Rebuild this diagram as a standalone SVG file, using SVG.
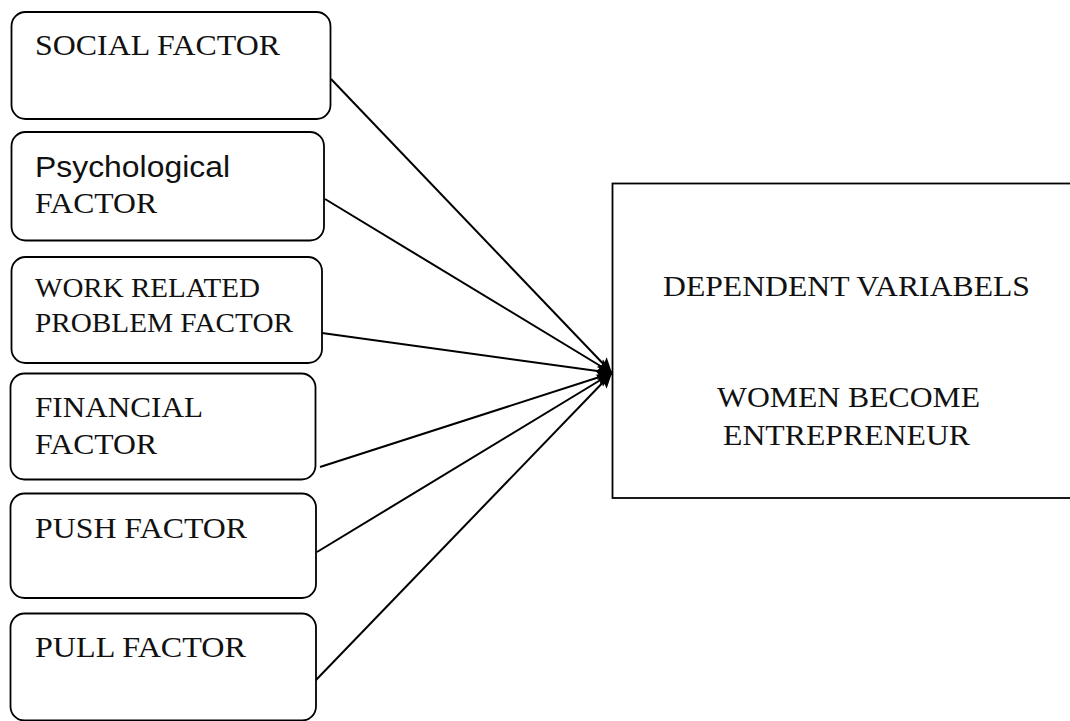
<svg xmlns="http://www.w3.org/2000/svg" width="1070" height="721" viewBox="0 0 1070 721">
  <style>
    .box { fill: none; stroke: #000; stroke-width: 1.8; }
    .t { font-family: "Liberation Serif", "Times New Roman", serif; font-size: 30px; fill: #111; }
    .s { font-family: "Liberation Sans", Arial, sans-serif; font-size: 29px; fill: #111; }
    .c { stroke: #000; stroke-width: 2; fill: none; marker-end: url(#ah); }
  </style>
  <defs>
    <marker id="ah" markerUnits="userSpaceOnUse" markerWidth="16" markerHeight="18" refX="15" refY="9" orient="auto">
      <path d="M0,2 L15,9 L0,16 L3,9 z" fill="#000"/>
    </marker>
  </defs>
  <rect width="1070" height="721" fill="#fff"/>

  <g id="connectors">
    <line class="c" x1="331" y1="79" x2="612" y2="373"/>
    <line class="c" x1="325" y1="199" x2="612" y2="373"/>
    <line class="c" x1="322" y1="333" x2="612" y2="373"/>
    <line class="c" x1="320" y1="467" x2="612" y2="373"/>
    <line class="c" x1="317" y1="552" x2="612" y2="373"/>
    <line class="c" x1="316" y1="680" x2="612" y2="373"/>
  </g>

  <g id="social">
    <rect class="box" x="11.5" y="12" width="319" height="107" rx="14"/>
    <text class="t" x="35" y="55" textLength="245" lengthAdjust="spacingAndGlyphs">SOCIAL FACTOR</text>
  </g>
  <g id="psychological">
    <rect class="box" x="11.5" y="132" width="312.5" height="108.5" rx="14"/>
    <text class="s" x="35" y="177" textLength="195" lengthAdjust="spacingAndGlyphs">Psychological</text>
    <text class="t" x="35" y="213" textLength="122" lengthAdjust="spacingAndGlyphs">FACTOR</text>
  </g>
  <g id="work">
    <rect class="box" x="11.5" y="257" width="310.5" height="106" rx="14"/>
    <text class="t" x="35" y="297" style="font-size:28px" textLength="225" lengthAdjust="spacingAndGlyphs">WORK RELATED</text>
    <text class="t" x="35" y="332" style="font-size:28px" textLength="258" lengthAdjust="spacingAndGlyphs">PROBLEM FACTOR</text>
  </g>
  <g id="financial">
    <rect class="box" x="10.5" y="373.5" width="305" height="106" rx="14"/>
    <text class="t" x="35" y="417" textLength="168" lengthAdjust="spacingAndGlyphs">FINANCIAL</text>
    <text class="t" x="35" y="454" textLength="122" lengthAdjust="spacingAndGlyphs">FACTOR</text>
  </g>
  <g id="push">
    <rect class="box" x="10.5" y="493.5" width="305.5" height="104.5" rx="14"/>
    <text class="t" x="35" y="538" textLength="212" lengthAdjust="spacingAndGlyphs">PUSH FACTOR</text>
  </g>
  <g id="pull">
    <rect class="box" x="10.5" y="613.5" width="305.5" height="107" rx="14"/>
    <text class="t" x="35" y="657" textLength="211" lengthAdjust="spacingAndGlyphs">PULL FACTOR</text>
  </g>

  <g id="dependent">
    <rect class="box" x="612.5" y="183.5" width="470" height="314.5"/>
    <text class="t" x="663" y="296" textLength="367" lengthAdjust="spacingAndGlyphs">DEPENDENT VARIABELS</text>
    <text class="t" x="717" y="407" textLength="263" lengthAdjust="spacingAndGlyphs">WOMEN BECOME</text>
    <text class="t" x="723" y="445" textLength="247" lengthAdjust="spacingAndGlyphs">ENTREPRENEUR</text>
  </g>
</svg>
